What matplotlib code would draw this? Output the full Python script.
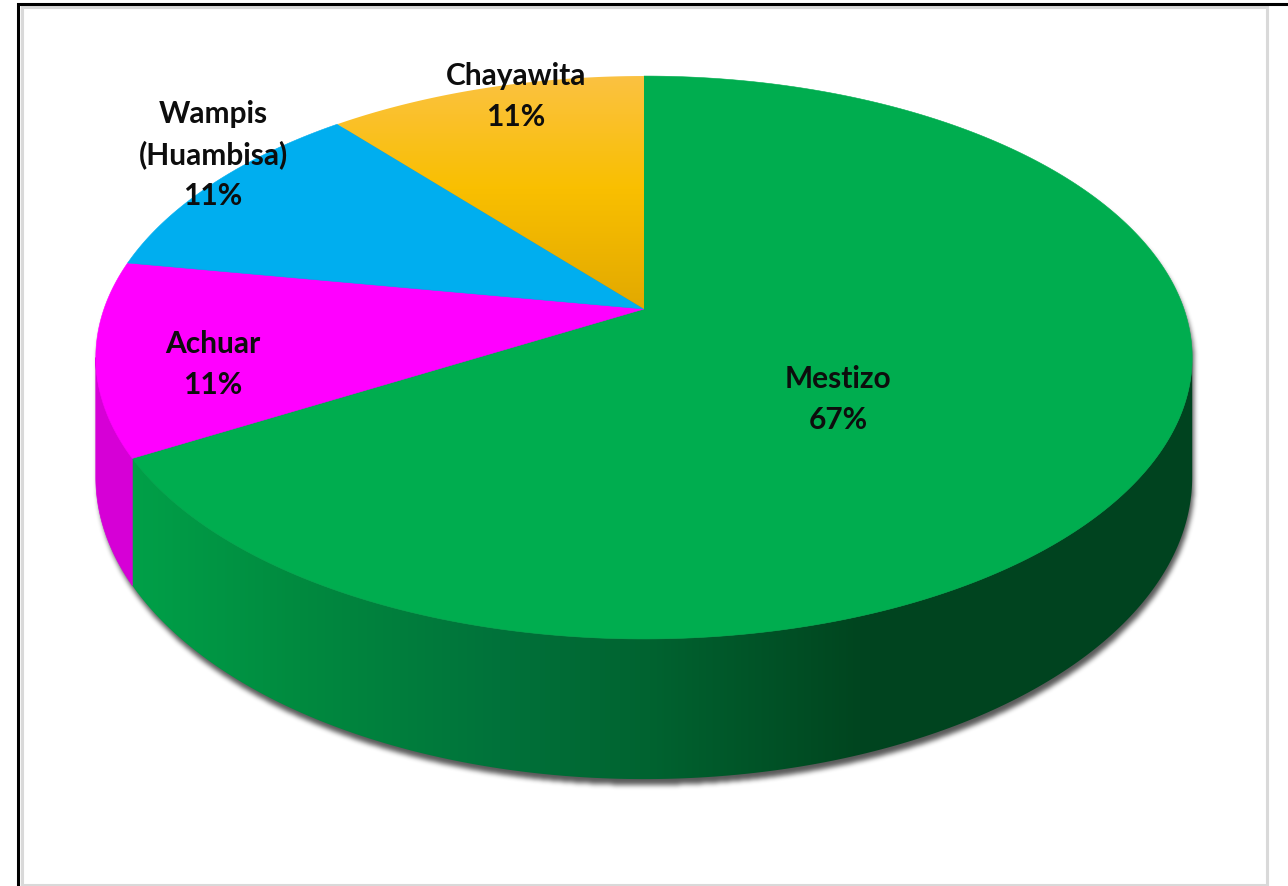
import numpy as np
import matplotlib
matplotlib.use("Agg")
import matplotlib.pyplot as plt
from matplotlib.path import Path
from matplotlib.patches import Polygon

# ── Data ───────────────────────────────────────────────────────────────────
groups = ["Mestizo", "Achuar", "Wampis\n(Huambisa)", "Chayawita"]
counts = [6, 1, 1, 1]
top_colors = ["#00ad4f", "#ff00ff", "#00aeef", "#f9bf00"]
wall_colors = ["#00a048", "#d600d6", "#0090c8", "#d9a400"]

# label block centres (pixels) – layout only
label_pos = [(838, 400), (213, 365), (213, 155), (516, 97)]
LINE_PITCH = 41

# ── Geometry of the tilted pie (pixel space) ───────────────────────────────
W, H = 1288, 887
CX, CY = 644, 310          # apex of the slices
A, B, P = 540, 273.1, 0.1723
DEPTH = 116
TAN = np.degrees(np.arcsin(P))   # silhouette tangent angle


def proj(theta_deg, r=1.0, z=0.0):
    t = np.radians(theta_deg)
    u = r * np.cos(t)
    v = r * np.sin(t)
    w = 1 + P * v
    return CX + A * u / w, CY - B * v / w + DEPTH * z / w


def blur1d(a, r, axis):
    pad = [(0, 0), (0, 0)]
    pad[axis] = (r + 1, r)
    c = np.cumsum(np.pad(a, pad, mode="edge"), axis=axis)
    n = a.shape[axis]
    if axis == 0:
        return (c[2 * r + 1:2 * r + 1 + n] - c[:n]) / (2 * r + 1)
    return (c[:, 2 * r + 1:2 * r + 1 + n] - c[:, :n]) / (2 * r + 1)


def ramp(pos, stops):
    xs = [s[0] for s in stops]
    rgb = np.array([matplotlib.colors.to_rgb(s[1]) for s in stops])
    return np.stack([np.interp(pos, xs, rgb[:, k]) for k in range(3)], axis=-1)


fig = plt.figure(figsize=(W / 100, H / 100), dpi=100)
ax = fig.add_axes([0, 0, 1, 1])
ax.set_xlim(0, W)
ax.set_ylim(H, 0)
ax.axis("off")

# slice angles: start at 12 o'clock, clockwise
total = sum(counts)
spans = [360.0 * c / total for c in counts]
starts = 90 - np.concatenate([[0], np.cumsum(spans)[:-1]])
ends = starts - np.array(spans)

# ── Shadow ────────────────────────────────────────────────────────────────
tx, ty = proj(np.linspace(-TAN, 180 + TAN, 300), 1, 0)
bx, by = proj(np.linspace(180 + TAN, 360 - TAN, 300), 1, 1)
sil = np.column_stack([np.concatenate([tx, bx]), np.concatenate([ty, by])])
gx, gy = np.meshgrid(np.arange(W) + 0.5, np.arange(H) + 0.5)
inside = Path(sil + [2, 6]).contains_points(
    np.column_stack([gx.ravel(), gy.ravel()])).reshape(H, W).astype(float)
for _ in range(3):
    inside = blur1d(blur1d(inside, 2, 0), 2, 1)
shadow = np.zeros((H, W, 4))
shadow[..., 3] = 0.65 * inside
ax.imshow(shadow, extent=(0, W, H, 0), origin="upper", zorder=1,
          interpolation="bilinear")

# ── Side walls (front visible part only) ──────────────────────────────────
wall_lo, wall_hi = 180 + TAN, 360 - TAN
green_grad = ramp(np.arange(W) + 0.5, [(135, "#00a048"), (300, "#008a3f"),
                                        (500, "#00723a"), (650, "#006330"),
                                        (860, "#00451f"), (1200, "#00431f")])
for i, (s, e) in enumerate(zip(starts, ends)):
    lo, hi = (e % 360), (e % 360) + spans[i]
    for off in (0, 360, -360):
        a0, a1 = max(lo + off, wall_lo), min(hi + off, wall_hi)
        if a1 <= a0:
            continue
        th = np.linspace(a0, a1, 200)
        x0, y0 = proj(th, 1, 0)
        x1, y1 = proj(th[::-1], 1, 1)
        pts = np.column_stack([np.concatenate([x0, x1]), np.concatenate([y0, y1])])
        if groups[i] == "Mestizo":
            patch = Polygon(pts, closed=True, facecolor="none", edgecolor="none")
            ax.add_patch(patch)
            img = np.repeat(green_grad[None, :, :], H, axis=0)
            im = ax.imshow(img, extent=(0, W, H, 0), origin="upper", zorder=2)
            im.set_clip_path(patch)
        else:
            ax.add_patch(Polygon(pts, closed=True, facecolor=wall_colors[i],
                                 edgecolor=wall_colors[i], lw=0.5, zorder=2))

# ── Top faces ─────────────────────────────────────────────────────────────
for i, (s, e) in enumerate(zip(starts, ends)):
    th = np.linspace(s, e, 300)
    x, y = proj(th, 1, 0)
    pts = np.column_stack([np.concatenate([[CX], x]), np.concatenate([[CY], y])])
    if groups[i] == "Chayawita":
        patch = Polygon(pts, closed=True, facecolor="none", edgecolor="none")
        ax.add_patch(patch)
        col = ramp(np.arange(H) + 0.5, [(77, "#fbc242"), (190, "#f9bf00"),
                                         (310, "#e2a900")])
        img = np.repeat(col[:, None, :], W, axis=1)
        im = ax.imshow(img, extent=(0, W, H, 0), origin="upper", zorder=3)
        im.set_clip_path(patch)
    else:
        ax.add_patch(Polygon(pts, closed=True, facecolor=top_colors[i],
                             edgecolor=top_colors[i], lw=0.4, zorder=3))

# ── Labels ────────────────────────────────────────────────────────────────
for name, c, (lx, ly) in zip(groups, counts, label_pos):
    lines = name.split("\n") + [f"{100 * c / total:.0f}%"]
    n = len(lines)
    for k, line in enumerate(lines):
        ax.text(lx, ly + LINE_PITCH * (k - (n - 1) / 2), line,
                ha="center", va="center", fontsize=21.5, fontweight="bold",
                family=["Lato", "DejaVu Sans"], color="#0d0d0d", zorder=5)

# ── Frame ─────────────────────────────────────────────────────────────────
ax.plot([22, 1267, 1267, 22, 22], [8, 8, 886, 886, 8], color="#d9d9d9",
        lw=2.2, zorder=6, solid_joinstyle="miter")
ax.plot([18, 18, W], [H, 5, 5], color="black", lw=2.2, zorder=7,
        solid_joinstyle="miter")

fig.savefig("out.png", dpi=100)
